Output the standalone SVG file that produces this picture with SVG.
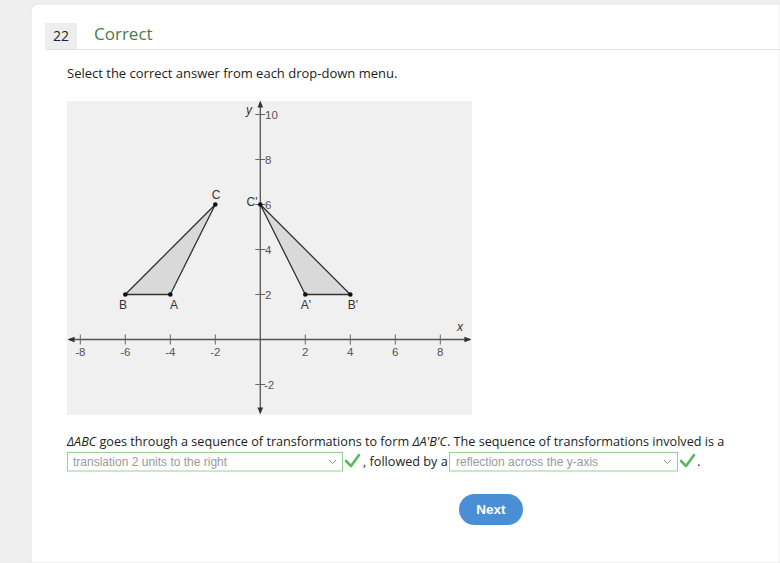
<svg xmlns="http://www.w3.org/2000/svg" width="780" height="563" viewBox="0 0 780 563">
<defs>
<style>
.ui{font-family:"Open Sans","Noto Sans",sans-serif;}
.g{font-family:"Liberation Sans",Arial,sans-serif;font-size:12px;fill:#333;}
.tk{font-family:"Liberation Sans",Arial,sans-serif;font-size:11.5px;fill:#555;}
.ax{stroke:#555;stroke-width:1.3;fill:none;}
.tick{stroke:#666;stroke-width:1;}
.tri{fill:#d9d9d9;stroke:#333;stroke-width:1.3;stroke-linejoin:round;}
.dd{fill:#fff;stroke:#95d095;stroke-width:1;}
.ddt{font-family:"Liberation Sans",Arial,sans-serif;font-size:12px;fill:#9a9a9a;}
.chk{fill:none;stroke:#5cb85c;stroke-width:2.6;stroke-linecap:round;stroke-linejoin:round;}
.chev{fill:none;stroke:#999;stroke-width:1;}
</style>
<marker id="arr" viewBox="0 0 10 10" refX="8" refY="5" markerWidth="7" markerHeight="7" orient="auto-start-reverse" markerUnits="userSpaceOnUse">
<path d="M0,1 L10,5 L0,9 Z" fill="#333"/>
</marker>
</defs>
<rect x="0" y="0" width="780" height="563" fill="#efefef"/>
<path d="M31,563 V12 Q31,4 39,4 H780 V563 Z" fill="#ffffff" stroke="#e4e4e4" stroke-width="1"/>
<g id="header">
<rect x="45" y="23" width="32" height="26" fill="#eeeeee"/>
<text class="ui" x="61" y="41" font-size="14" fill="#222" text-anchor="middle">22</text>
<text class="ui" x="94" y="40" font-size="17" fill="#4a7a4c">Correct</text>
<line x1="45" y1="49.5" x2="780" y2="49.5" stroke="#e0e0e0" stroke-width="1"/>
</g>
<text id="instruction" class="ui" x="67" y="78" font-size="13" fill="#222">Select the correct answer from each drop-down menu.</text>
<g id="graph">
<rect x="67" y="101" width="405" height="314" fill="#f0f0f0"/>
<g id="axes">
<line class="ax" x1="69" y1="339.5" x2="470" y2="339.5" marker-start="url(#arr)" marker-end="url(#arr)"/>
<line class="ax" x1="260.3" y1="413" x2="260.3" y2="102" marker-start="url(#arr)" marker-end="url(#arr)"/>
<g class="tick">
<line x1="80.3" y1="334.5" x2="80.3" y2="344.5"/>
<line x1="125.3" y1="334.5" x2="125.3" y2="344.5"/>
<line x1="170.3" y1="334.5" x2="170.3" y2="344.5"/>
<line x1="215.3" y1="334.5" x2="215.3" y2="344.5"/>
<line x1="305.3" y1="334.5" x2="305.3" y2="344.5"/>
<line x1="350.3" y1="334.5" x2="350.3" y2="344.5"/>
<line x1="395.3" y1="334.5" x2="395.3" y2="344.5"/>
<line x1="440.3" y1="334.5" x2="440.3" y2="344.5"/>
<line x1="255.3" y1="384.5" x2="265.3" y2="384.5"/>
<line x1="255.3" y1="294.5" x2="265.3" y2="294.5"/>
<line x1="255.3" y1="249.5" x2="265.3" y2="249.5"/>
<line x1="255.3" y1="204.5" x2="265.3" y2="204.5"/>
<line x1="255.3" y1="159.5" x2="265.3" y2="159.5"/>
<line x1="255.3" y1="114.5" x2="265.3" y2="114.5"/>
</g>
<g class="tk" text-anchor="middle">
<text x="80.3" y="356">-8</text>
<text x="125.3" y="356">-6</text>
<text x="170.3" y="356">-4</text>
<text x="215.3" y="356">-2</text>
<text x="305.3" y="356">2</text>
<text x="350.3" y="356">4</text>
<text x="395.3" y="356">6</text>
<text x="440.3" y="356">8</text>
</g>
<g class="tk">
<text x="264" y="389">-2</text>
<text x="265" y="299">2</text>
<text x="265" y="254">4</text>
<text x="265" y="209">6</text>
<text x="265" y="164">8</text>
<text x="265" y="119">10</text>
</g>
<text class="g" x="246" y="114" font-style="italic" fill="#333">y</text>
<text class="g" x="457" y="331" font-style="italic" fill="#333">x</text>
</g>
<g id="triangle-ABC">
<polygon class="tri" points="170.3,294.5 125.3,294.5 215.3,204.5"/>
<circle cx="170.3" cy="294.5" r="2.3" fill="#111"/>
<circle cx="125.3" cy="294.5" r="2.3" fill="#111"/>
<circle cx="215.3" cy="204.5" r="2.3" fill="#111"/>
<text class="g" x="174" y="309" text-anchor="middle">A</text>
<text class="g" x="123" y="309" text-anchor="middle">B</text>
<text class="g" x="216" y="199" text-anchor="middle">C</text>
</g>
<g id="triangle-A1B1C1">
<polygon class="tri" points="305.3,294.5 350.3,294.5 260.3,204.5"/>
<circle cx="305.3" cy="294.5" r="2.3" fill="#111"/>
<circle cx="350.3" cy="294.5" r="2.3" fill="#111"/>
<circle cx="260.3" cy="204.5" r="2.3" fill="#111"/>
<text class="g" x="306" y="309" text-anchor="middle">A'</text>
<text class="g" x="353" y="309" text-anchor="middle">B'</text>
<text class="g" x="252" y="206" text-anchor="middle">C'</text>
</g>
</g>
<text id="question" class="ui" x="67" y="446" font-size="12.65" fill="#222"><tspan font-style="italic">∆ABC</tspan> goes through a sequence of transformations to form <tspan font-style="italic">∆A'B'C</tspan>. The sequence of transformations involved is a</text>
<g id="dropdown1">
<rect class="dd" x="67.5" y="452.5" width="275" height="18.5"/>
<text class="ddt" x="73" y="466">translation 2 units to the right</text>
<path class="chev" d="M329,460 L332.5,463.5 L336,460"/>
<path class="chk" d="M346,461 L351,466 L359,455"/>
</g>
<text class="ui" x="363" y="466" font-size="12.65" fill="#222">, followed by a</text>
<g id="dropdown2">
<rect class="dd" x="449.5" y="452.5" width="228" height="18.5"/>
<text class="ddt" x="456" y="466">reflection across the y-axis</text>
<path class="chev" d="M664,460 L667.5,463.5 L671,460"/>
<path class="chk" d="M681,461 L686,466 L694,455"/>
</g>
<text class="ui" x="697" y="466" font-size="13" fill="#222">.</text>
<g id="next-button">
<rect x="459" y="494" width="64" height="31" rx="15.5" fill="#4a8fd6"/>
<text x="491" y="514" font-family="Liberation Sans,Arial,sans-serif" font-size="13.5" font-weight="bold" fill="#fff" text-anchor="middle">Next</text>
</g>
</svg>
